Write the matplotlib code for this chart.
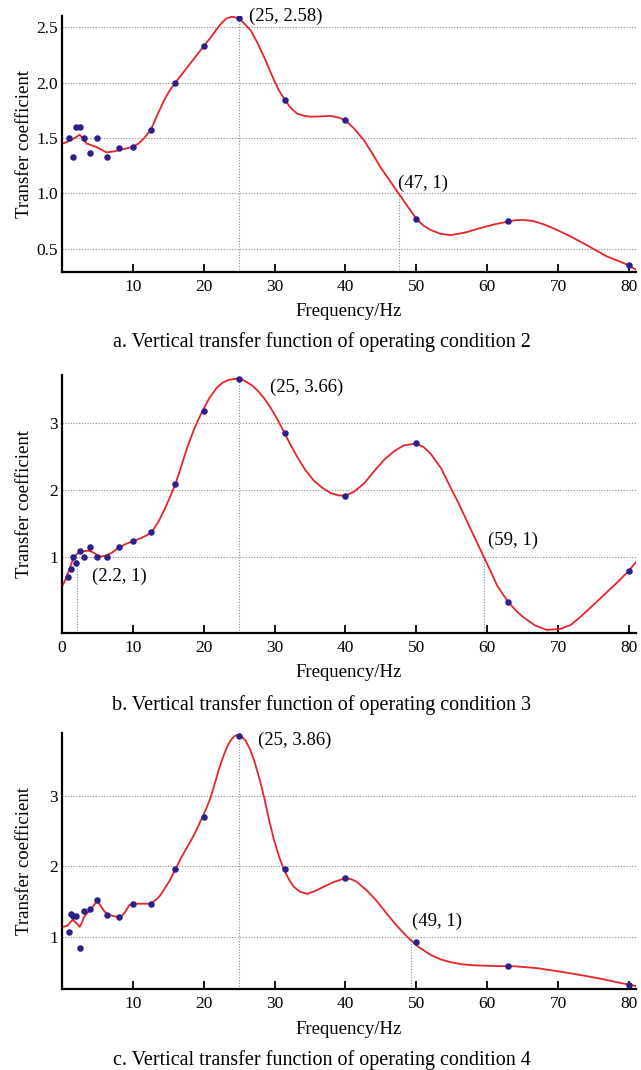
import numpy as np
import matplotlib
matplotlib.use("Agg")
import matplotlib.pyplot as plt

plt.rcParams['font.family'] = ['Liberation Serif', 'DejaVu Serif']

# measured points (1/3 octave centre frequencies)
a_freq = [1, 1.6, 2, 2.5, 3.15, 4, 5, 6.3, 8, 10, 12.5, 16, 20, 25, 31.5, 40, 50, 63, 80]
a_val = [1.50, 1.33, 1.60, 1.60, 1.50, 1.365, 1.50, 1.33, 1.41, 1.42, 1.57, 2.0, 2.33, 2.58, 1.84, 1.66, 0.77, 0.75, 0.35]

b_freq = [0.9, 1.2, 1.6, 2, 2.5, 3.15, 4, 5, 6.3, 8, 10, 12.5, 16, 20, 25, 31.5, 40, 50, 63, 80]
b_val = [0.69, 0.81, 1.00, 0.91, 1.09, 1.00, 1.14, 1.00, 1.00, 1.15, 1.23, 1.365, 2.08, 3.17, 3.66, 2.845, 1.91, 2.69, 0.32, 0.79]

c_freq = [1, 1.25, 1.6, 2, 2.5, 3.15, 4, 5, 6.3, 8, 10, 12.5, 16, 20, 25, 31.5, 40, 50, 63, 80]
c_val = [1.07, 1.33, 1.30, 1.29, 0.84, 1.37, 1.39, 1.52, 1.31, 1.28, 1.46, 1.46, 1.96, 2.70, 3.86, 1.96, 1.83, 0.93, 0.59, 0.32]

# fitted curves
a_curve_f = [0.1, 1.3, 2.5, 3.5, 4.8, 6.3, 7.4, 9.3, 10, 10.8, 11.6, 12.5, 13.4, 14.4, 15.2, 16, 17.7, 18.8, 20, 21,
             21.8, 22.4, 23.2, 24, 25, 25.8, 26.6, 27.5, 28.5, 29.9, 30.7, 31.5, 32.3, 33.2, 34.2, 35.1, 36.5,
             37.9, 39, 40, 41.3, 42.6, 43.8, 44.9, 46.2, 47.5, 48.8, 50, 51, 52, 53.4, 54.8, 56.8, 59, 61, 63,
             64, 65.1, 66.5, 68, 69.3, 71.5, 74, 76.9, 78.5, 80, 81]
a_curve_v = [1.45, 1.48, 1.53, 1.45, 1.42, 1.37, 1.38, 1.41, 1.42, 1.45, 1.50, 1.57, 1.70, 1.84, 1.93, 2.0, 2.14, 2.23, 2.33, 2.41,
             2.48, 2.53, 2.58, 2.596, 2.58, 2.53, 2.475, 2.37, 2.235, 2.025, 1.92, 1.84, 1.77, 1.72, 1.70, 1.693, 1.695,
             1.70, 1.685, 1.66, 1.58, 1.48, 1.36, 1.24, 1.12, 1.0, 0.88, 0.77, 0.71, 0.67, 0.635, 0.623, 0.645, 0.686, 0.72, 0.746,
             0.758, 0.76, 0.75, 0.72, 0.686, 0.62, 0.535, 0.43, 0.39, 0.35, 0.31]

b_curve_f = [0.1, 0.5, 0.8, 1.2, 1.5, 2.1, 2.6, 3.1, 3.6, 4.1, 4.6, 5, 5.5, 6, 6.9, 8.1, 9, 10, 11, 12, 12.8,
             13.6, 14.4, 15.2, 16, 16.8, 17.7, 18.7, 19.7, 20.8, 21.9, 22.7, 23.5, 24.8, 25.5, 26.2, 26.9, 27.6,
             28.5, 29.4, 30.4, 31.4, 32.3, 33.2, 34.3, 35.5, 36.7, 37.9, 39, 40, 41.2, 42.6, 44, 45.4, 46.8, 48.2,
             49.9, 51, 52, 53.5, 54.8, 56, 57.1, 58.3, 59.5, 60.5, 61.4, 62.2, 63, 64, 65.1, 66.8, 68.4, 70.3,
             71.8, 73.1, 75, 76.9, 78.5, 80, 81]
b_curve_v = [0.57, 0.66, 0.74, 0.86, 0.95, 1.04, 1.07, 1.08, 1.09, 1.08, 1.05, 1.02, 1.005, 1.01, 1.05, 1.14, 1.19, 1.23, 1.27, 1.32, 1.39,
             1.52, 1.69, 1.88, 2.08, 2.34, 2.64, 2.92, 3.15, 3.37, 3.53, 3.60, 3.64, 3.66, 3.64, 3.60, 3.55, 3.48,
             3.37, 3.23, 3.05, 2.845, 2.66, 2.49, 2.30, 2.14, 2.03, 1.95, 1.915, 1.91, 1.97, 2.09, 2.27, 2.44, 2.57, 2.66,
             2.69, 2.64, 2.54, 2.32, 2.04, 1.79, 1.54, 1.27, 1.0, 0.78, 0.57, 0.44, 0.32, 0.20, 0.095, -0.03, -0.094, -0.08,
             -0.02, 0.095, 0.28, 0.47, 0.63, 0.79, 0.92]

c_curve_f = [0.1, 0.8, 1.2, 1.5, 2, 2.5, 2.8, 3.1, 3.5, 4, 4.5, 4.9, 5.2, 5.5, 6, 6.4, 7.4, 8.3, 8.9, 9.5, 10,
             11, 12.5, 13.2, 13.8, 14.4, 15.2, 16, 16.8, 17.7, 18.8, 19.8, 20.4, 21, 21.6, 22.2, 22.9, 23.4,
             23.8, 24.3, 24.8, 25.3, 25.9, 26.5, 27.1, 27.8, 28.5, 29.2, 29.9, 30.6, 31.3, 32, 32.7, 33.6, 34.6,
             35.7, 36.9, 38.4, 39.9, 40.8, 41.6, 43, 44.5, 45.9, 47.3, 48.9, 50.4, 52, 53.4, 54.8, 56.4, 58,
             61, 64, 67, 70, 73, 76, 79, 81]
c_curve_v = [1.14, 1.16, 1.21, 1.24, 1.20, 1.14, 1.20, 1.28, 1.33, 1.38, 1.45, 1.50, 1.48, 1.43, 1.36, 1.32, 1.29, 1.28, 1.35, 1.45, 1.47,
             1.47, 1.47, 1.52, 1.58, 1.67, 1.80, 1.96, 2.12, 2.28, 2.48, 2.70, 2.83, 2.99, 3.19, 3.40, 3.60, 3.72,
             3.79, 3.85, 3.87, 3.85, 3.79, 3.67, 3.51, 3.27, 2.99, 2.67, 2.38, 2.15, 1.96, 1.82, 1.71, 1.64, 1.61,
             1.65, 1.71, 1.78, 1.83, 1.82, 1.78, 1.66, 1.50, 1.32, 1.15, 0.98, 0.85, 0.745, 0.68, 0.64, 0.61, 0.595,
             0.585, 0.58, 0.555, 0.51, 0.46, 0.405, 0.34, 0.30]

# annotated points: (line x, line top, label)
a_marks = [(25, 2.58, "(25, 2.58)"), (47.5, 1.0, "(47, 1)")]
b_marks = [(25, 3.66, "(25, 3.66)"), (2.1, 1.0, "(2.2, 1)"), (59.5, 1.0, "(59, 1)")]
c_marks = [(25, 3.86, "(25, 3.86)"), (49.3, 1.0, "(49, 1)")]

panels = [
    dict(f=a_freq, v=a_val, cf=a_curve_f, cv=a_curve_v, marks=a_marks,
         ylim=(0.29, 2.602), yticks=[0.5, 1.0, 1.5, 2.0, 2.5], yfmt="%.1f",
         xticks=[10, 20, 30, 40, 50, 60, 70, 80],
         text_pos=[(26.4, 2.6), (47.4, 1.09)],
         rect=[62, 16, 636, 272], caption="a. Vertical transfer function of operating condition 2", cap_y=342),
    dict(f=b_freq, v=b_val, cf=b_curve_f, cv=b_curve_v, marks=b_marks,
         ylim=(-0.136, 3.713), yticks=[1, 2, 3], yfmt="%d",
         xticks=[0, 10, 20, 30, 40, 50, 60, 70, 80],
         text_pos=[(29.4, 3.53), (4.2, 0.70), (60.1, 1.25)],
         rect=[62, 375, 636, 632.7], caption="b. Vertical transfer function of operating condition 3", cap_y=705),
    dict(f=c_freq, v=c_val, cf=c_curve_f, cv=c_curve_v, marks=c_marks,
         ylim=(0.254, 3.90), yticks=[1, 2, 3], yfmt="%d",
         xticks=[10, 20, 30, 40, 50, 60, 70, 80],
         text_pos=[(27.6, 3.79), (49.4, 1.22)],
         rect=[62, 732.7, 636, 989.3], caption="c. Vertical transfer function of operating condition 4", cap_y=1060),
]

W, H = 641, 1070
fig = plt.figure(figsize=(W / 100, H / 100), dpi=100)

for p in panels:
    x0, y0, x1, y1 = p['rect']
    ax = fig.add_axes([x0 / W, 1 - y1 / H, (x1 - x0) / W, (y1 - y0) / H])
    ax.set_xlim(0, 81)
    ax.set_ylim(*p['ylim'])
    for y in p['yticks']:
        ax.axhline(y, color='#8c8c8c', lw=0.8, ls=(0, (1, 1.5)), zorder=1)
    for (mx, my, lab), (tx, ty) in zip(p['marks'], p['text_pos']):
        ax.plot([mx, mx], [p['ylim'][0], my], color='#8c8c8c', lw=0.8, ls=(0, (1, 1.5)), zorder=1)
        ax.text(tx, ty, lab, fontsize=13.5, ha='left', va='center')
    ax.plot(p['cf'], p['cv'], color='#e8232a', lw=1.3, zorder=2, solid_joinstyle='round')
    ax.scatter(p['f'], p['v'], s=22, color='#2d2088', zorder=3, linewidths=0)
    ax.set_yticks(p['yticks'])
    ax.set_yticklabels([p['yfmt'] % t for t in p['yticks']])
    ax.set_xticks(p['xticks'])
    ax.tick_params(axis='y', length=0, pad=3, labelsize=12.5)
    ax.tick_params(axis='x', direction='in', length=6, width=1.3, pad=5, labelsize=12.5)
    for s in ['top', 'right']:
        ax.spines[s].set_visible(False)
    for s in ['left', 'bottom']:
        ax.spines[s].set_linewidth(1.6)
    ax.set_ylabel("Transfer coefficient", fontsize=13.5)
    ax.yaxis.set_label_coords(-0.05, 0.5)
    ax.set_xlabel("Frequency/Hz", fontsize=13.5, labelpad=6)
    fig.text(0.502, 1 - p['cap_y'] / H, p['caption'], fontsize=14.5, ha='center', va='center')

fig.savefig("out.png", dpi=100)
